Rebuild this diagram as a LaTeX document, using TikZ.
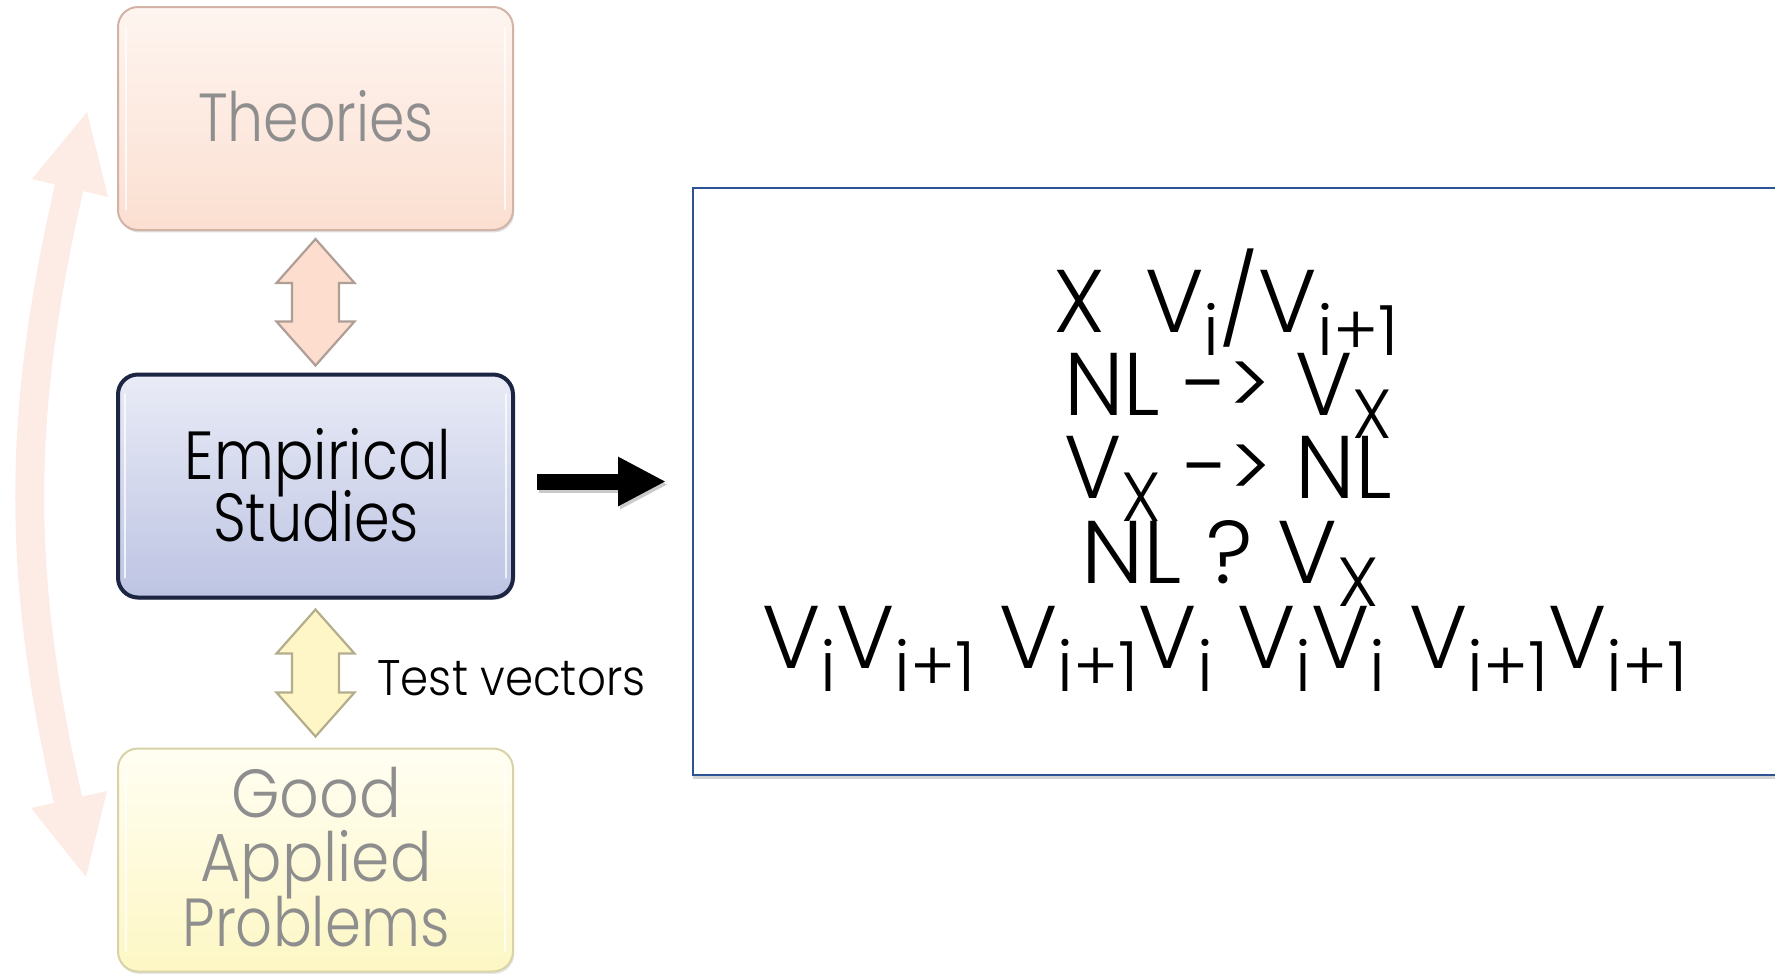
\documentclass[tikz,border=0pt]{standalone}
\usepackage{fontspec}
\IfFontExistsTF{Poppins Light}{\setmainfont{Poppins Light}}{\setmainfont{Poppins}}
\usetikzlibrary{calc,shadows,arrows.meta}
\definecolor{theoTop}{HTML}{FEF5F0}
\definecolor{theoBot}{HTML}{FBDFD1}
\definecolor{theoBorder}{HTML}{D2B3A5}
\definecolor{empTop}{HTML}{E9EBF6}
\definecolor{empBot}{HTML}{BDC4E3}
\definecolor{empBorder}{HTML}{1C2541}
\definecolor{goodTop}{HTML}{FFFEF2}
\definecolor{goodBot}{HTML}{FDF7C4}
\definecolor{goodBorder}{HTML}{D8D2A8}
\definecolor{textGray}{HTML}{8E8E8E}
\definecolor{arrAFill}{HTML}{FDDDCD}
\definecolor{arrADraw}{HTML}{AE9E96}
\definecolor{arrBFill}{HTML}{FEF6C6}
\definecolor{arrBDraw}{HTML}{B4AD8C}
\definecolor{curvCol}{HTML}{FDECE6}
\definecolor{boxBlue}{HTML}{2E5395}
\newcommand\sbs[1]{\raisebox{-0.26em}{\scalebox{0.78}{#1}}}
\newcommand\fw[2]{\resizebox{#1}{\height}{#2}}
\newcommand\dbl[3]{\filldraw[#1] (#2) -- ++(39,44) -- ++(-15.5,0) -- ($(#3)+(23.5,-44)$) -- ++(15.5,0) -- (#3) -- ++(-39,-44) -- ++(15.5,0) -- ($(#2)+(-23.5,44)$) -- ++(-15.5,0) -- cycle;}
\newcommand\gloss[1]{%
  \draw[glossline] ($(#1.north west)+(9,22)$) -- ($(#1.south west)+(9,-22)$);
  \draw[glossline] ($(#1.north east)+(-9,22)$) -- ($(#1.south east)+(-9,-22)$);}
\begin{document}
\begin{tikzpicture}[x=0.5pt,y=-0.5pt,
  boxbase/.style={rectangle, rounded corners=10pt, minimum width=197.5pt, minimum height=111.5pt, inner sep=0pt, line width=1pt},
  theobox/.style={boxbase, draw=theoBorder, top color=theoTop, bottom color=theoBot, drop shadow={shadow xshift=0.6pt, shadow yshift=-1.2pt, opacity=0.25}},
  empbox/.style={boxbase, line width=2pt, draw=empBorder, top color=empTop, bottom color=empBot, drop shadow={shadow xshift=0.6pt, shadow yshift=-1.2pt, opacity=0.3}},
  goodbox/.style={boxbase, draw=goodBorder, top color=goodTop, bottom color=goodBot, drop shadow={shadow xshift=0.6pt, shadow yshift=-1.2pt, opacity=0.2}},
  glossline/.style={white, opacity=0.75, line width=1.4pt, line cap=round},
  boxtxt/.style={anchor=base, inner sep=0pt, font=\fontsize{34}{34}\selectfont},
  graytxt/.style={boxtxt, text=textGray},
  mathtxt/.style={anchor=base, inner sep=0pt, font=\fontsize{44.5}{44.5}\selectfont},
  mboxst/.style={rectangle, draw=boxBlue, line width=1pt, fill=white, minimum width=553.5pt, minimum height=293.5pt, drop shadow={shadow xshift=0pt, shadow yshift=-1.8pt, opacity=0.35}},
  dblA/.style={fill=arrAFill, draw=arrADraw, line width=1.1pt},
  dblB/.style={fill=arrBFill, draw=arrBDraw, line width=1.1pt},
  bigarrow/.style={line width=8pt, -{Triangle[length=24pt,width=23pt]}},
]
\useasboundingbox (0,0) rectangle (1775,976);
\clip (0,0) rectangle (1775,976);
% big faint curved double arrow
\fill[curvCol] (32,179) -- (87,112) -- (108,197) -- cycle;
\fill[curvCol] (31,808) -- (86,877) -- (107,791) -- cycle;
\draw[curvCol, line width=14.5pt] (70,184) .. controls (17,413) and (16,575) .. (69,804);
% boxes
\node[theobox] (theo) at (315.5,118.5) {};
\node[empbox] (emp) at (315.5,486) {};
\node[goodbox] (good) at (315.5,860) {};
\gloss{theo}
\gloss{emp}
\gloss{good}
\node[mboxst] (mbox) at (1246.5,481.5) {};
% box texts
\node[graytxt] (theoT) at (316,141) {\fw{118pt}{Theories}};
\node[boxtxt] (empT1) at (318,479) {\fw{133pt}{Empirical}};
\node[boxtxt] (empT2) at (316,541) {\fw{103pt}{Studies}};
\node[graytxt] (goodT1) at (316,817) {\fw{85pt}{Good}};
\node[graytxt] (goodT2) at (316,881) {\fw{115.5pt}{Applied}};
\node[graytxt] (goodT3) at (316,946) {\fw{133.5pt}{Problems}};
% double arrows
\coordinate (a1t) at ($(theo.south)+(0,8)$);
\coordinate (a1b) at ($(emp.north)+(0,-7)$);
\coordinate (a2t) at ($(emp.south)+(0,10)$);
\coordinate (a2b) at ($(good.north)+(0,-11)$);
\dbl{dblA}{a1t}{a1b}
\dbl{dblB}{a2t}{a2b}
\node[anchor=base west, inner sep=0pt, font=\fontsize{25}{25}\selectfont] (tv) at (377,695) {\fw{134pt}{Test vectors}};
% black arrow
\draw[bigarrow, black!60, opacity=0.35, transform canvas={shift={(1pt,-1.5pt)}}] ($(emp.east |- mbox.west)+(22,0)$) -- ($(mbox.west)+(-26,0)$);
\draw[bigarrow] ($(emp.east |- mbox.west)+(22,0)$) -- ($(mbox.west)+(-26,0)$);
% math lines
\node[mathtxt] (l1) at (1226,332) {\fw{172.5pt}{X\hspace{0.45em}V\sbs{i}/V\sbs{i+1}}};
\node[mathtxt] (l2) at (1228,415) {\fw{164pt}{NL -> V\sbs{X}}};
\node[mathtxt] (l3) at (1228,498) {\fw{164pt}{V\sbs{X} -> NL}};
\node[mathtxt] (l4) at (1230,583) {\fw{149pt}{NL ? V\sbs{X}}};
\node[mathtxt] (l5) at (1225,668) {\fw{462.5pt}{V\sbs{i}V\sbs{i+1} V\sbs{i+1}V\sbs{i} V\sbs{i}V\sbs{i} V\sbs{i+1}V\sbs{i+1}}};
\end{tikzpicture}
\end{document}
